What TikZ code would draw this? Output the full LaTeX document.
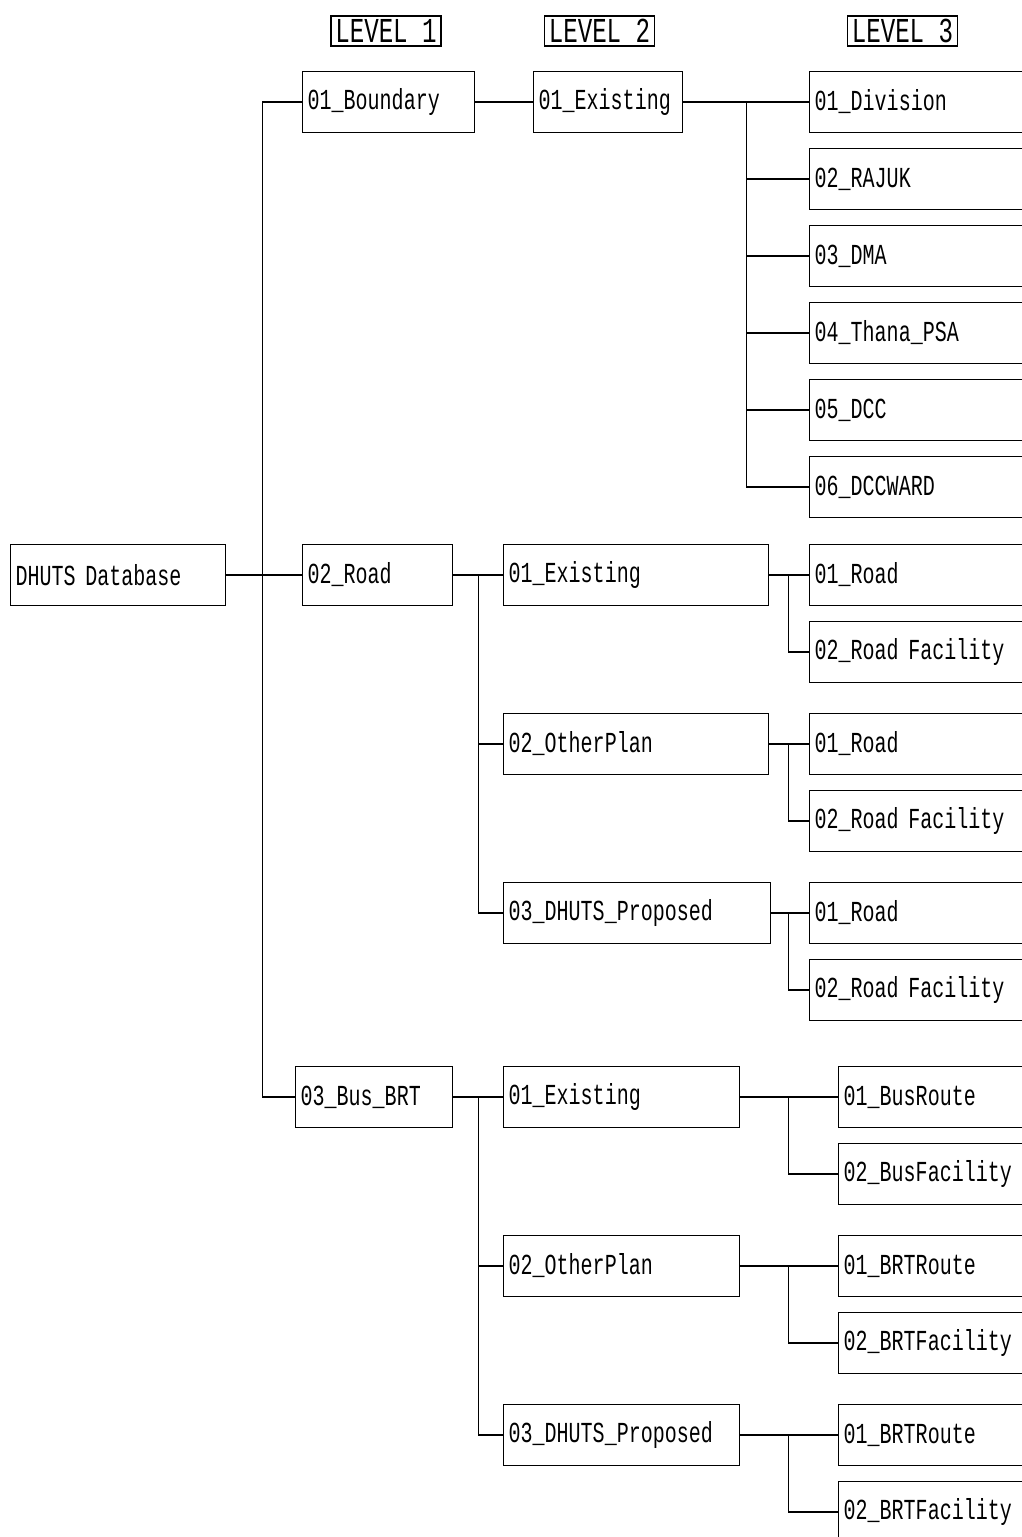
\documentclass[tikz,border=0pt]{standalone}
\usepackage{fontspec}
\newfontfamily\treefont[FakeStretch=0.69]{Liberation Mono}

\tikzset{
  folder/.style={draw, line width=1.4pt, anchor=west, minimum height=61pt, inner xsep=5pt, align=left,
    font=\treefont\fontsize{29}{29}\selectfont},
  level/.style={draw, line width=1.4pt, minimum width=110pt, minimum height=30pt, inner sep=0pt,
    font=\treefont\fontsize{35}{35}\selectfont},
  link/.style={line width=1.3pt},
}

\begin{document}
\begin{tikzpicture}[x=1pt, y=-1pt]
  \useasboundingbox (0,0) rectangle (1022,1537);
  \clip (0,0) rectangle (1022,1537);

  % headings
  \node[level] (lv1) at (386,31) {LEVEL 1};
  \node[level] (lv2) at (599.5,31) {LEVEL 2};
  \node[level] (lv3) at (902.5,31) {LEVEL 3};

  % root and level 1
  \node[folder, text width=205pt] (db) at (10,575) {DHUTS Database};
  \node[folder, text width=162pt] (bnd) at (302,102) {01\_Boundary};
  \node[folder, text width=140pt] (road) at (302,575) {02\_Road};
  \node[folder, text width=147pt] (bus) at (295,1097) {03\_Bus\_BRT};

  % level 2
  \node[folder, text width=139pt] (bnd-ex) at (533,102) {01\_Existing};
  \node[folder, text width=255pt] (road-ex) at (503,575) {01\_Existing};
  \node[folder, text width=255pt] (road-op) at (503,744) {02\_OtherPlan};
  \node[folder, text width=257pt] (road-dp) at (503,913) {03\_DHUTS\_Proposed};
  \node[folder, text width=226pt] (bus-ex) at (503,1097) {01\_Existing};
  \node[folder, text width=226pt] (bus-op) at (503,1266) {02\_OtherPlan};
  \node[folder, text width=226pt] (bus-dp) at (503,1435) {03\_DHUTS\_Proposed};

  % level 3, boundary
  \node[folder, text width=230pt] (div) at (809,102) {01\_Division};
  \node[folder, text width=230pt] (rajuk) at (809,179) {02\_RAJUK};
  \node[folder, text width=230pt] (dma) at (809,256) {03\_DMA};
  \node[folder, text width=230pt] (thana) at (809,333) {04\_Thana\_PSA};
  \node[folder, text width=230pt] (dcc) at (809,410) {05\_DCC};
  \node[folder, text width=230pt] (ward) at (809,487) {06\_DCCWARD};

  % level 3, road
  \node[folder, text width=230pt] (rex-road) at (809,575) {01\_Road};
  \node[folder, text width=230pt] (rex-fac) at (809,652) {02\_Road Facility};
  \node[folder, text width=230pt] (rop-road) at (809,744) {01\_Road};
  \node[folder, text width=230pt] (rop-fac) at (809,821) {02\_Road Facility};
  \node[folder, text width=230pt] (rdp-road) at (809,913) {01\_Road};
  \node[folder, text width=230pt] (rdp-fac) at (809,990) {02\_Road Facility};

  % level 3, bus and brt
  \node[folder, text width=230pt] (bex-route) at (838,1097) {01\_BusRoute};
  \node[folder, text width=230pt] (bex-fac) at (838,1174) {02\_BusFacility};
  \node[folder, text width=230pt] (bop-route) at (838,1266) {01\_BRTRoute};
  \node[folder, text width=230pt] (bop-fac) at (838,1343) {02\_BRTFacility};
  \node[folder, text width=230pt] (bdp-route) at (838,1435) {01\_BRTRoute};
  \node[folder, text width=230pt] (bdp-fac) at (838,1512) {02\_BRTFacility};

  % tree lines
  \foreach \c in {bnd,road,bus} \draw[link] (db.east) -- ++(36,0) |- (\c.west);
  \draw[link] (bnd.east) -- (bnd-ex.west);
  \foreach \c in {div,rajuk,dma,thana,dcc,ward} \draw[link] (bnd-ex.east) -- ++(63,0) |- (\c.west);
  \foreach \c in {road-ex,road-op,road-dp} \draw[link] (road.east) -- ++(25,0) |- (\c.west);
  \foreach \c in {rex-road,rex-fac} \draw[link] (road-ex.east) -- ++(19,0) |- (\c.west);
  \foreach \c in {rop-road,rop-fac} \draw[link] (road-op.east) -- ++(19,0) |- (\c.west);
  \foreach \c in {rdp-road,rdp-fac} \draw[link] (road-dp.east) -- ++(17,0) |- (\c.west);
  \foreach \c in {bus-ex,bus-op,bus-dp} \draw[link] (bus.east) -- ++(25,0) |- (\c.west);
  \foreach \c in {bex-route,bex-fac} \draw[link] (bus-ex.east) -- ++(48,0) |- (\c.west);
  \foreach \c in {bop-route,bop-fac} \draw[link] (bus-op.east) -- ++(48,0) |- (\c.west);
  \foreach \c in {bdp-route,bdp-fac} \draw[link] (bus-dp.east) -- ++(48,0) |- (\c.west);
\end{tikzpicture}
\end{document}
